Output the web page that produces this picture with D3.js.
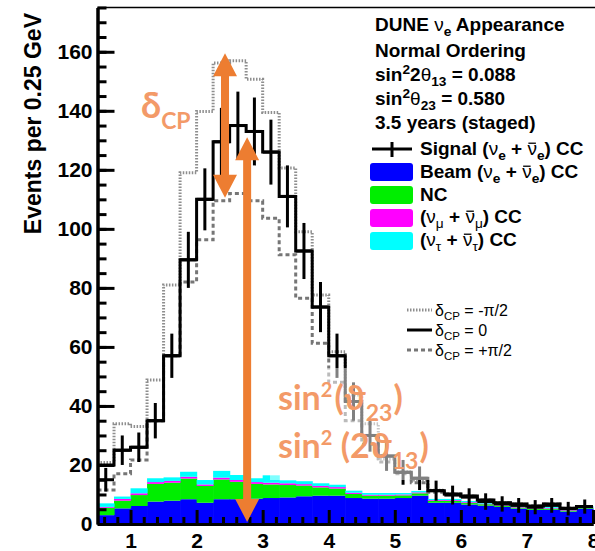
<!DOCTYPE html>
<meta charset="utf-8">
<script src="https://d3js.org/d3.v7.min.js"></script>
<style>
  body { margin: 0; background: #fff; }
  text { font-family: "Liberation Sans", Arial, sans-serif; }
</style>
<div id="my_dataviz"></div>
<script>

// lower edges of the 0.25 GeV bins
var binLow = [0.5, 0.75, 1.0, 1.25, 1.5, 1.75, 2.0, 2.25, 2.5, 2.75, 3.0, 3.25, 3.5, 3.75, 4.0,
              4.25, 4.5, 4.75, 5.0, 5.25, 5.5, 5.75, 6.0, 6.25, 6.5, 6.75, 7.0, 7.25, 7.5, 7.75];
var binWidth = 0.25;

// signal points (crosses) and their error bars
var signal    = [15, 25, 26, 35, 57, 89.5, 110, 129.5, 135, 133, 126, 111, 92.5, 73.5, 57,
                 41.5, 30, 23, 17.5, 15.5, 11.3, 9.8, 9.1, 7.6, 6.8, 6.3, 5.7, 6.3, 5.2, 5.9];
var signalErr = [4, 5, 5, 6, 7.5, 9.5, 10.5, 11.5, 11.5, 11.5, 11, 10.5, 9.5, 8.5, 7.5,
                 6.5, 5.5, 5, 4.2, 4, 3.4, 3.2, 3, 2.8, 2.6, 2.5, 2.4, 2.5, 2.3, 2.4];

// total spectra for the three dCP values
var dcpZero  = [20, 25, 26, 35, 57, 89.5, 110, 129.5, 135, 133, 126, 111, 92.5, 73.5, 57,
                41.5, 30, 23, 17.5, 15.5, 11.3, 10.2, 9.5, 8.1, 7.2, 6.8, 6.1, 6.8, 5.3, 5.9];
var dcpMinus = [20.8, 34, 33, 48.8, 81, 119, 139.8, 156.2, 157, 150.7, 139.4, 120.6, 99, 77.6, 58.4,
                43.7, 34, 22, 17.7, 14.9, 11.4, 10.2, 9.5, 8.1, 7.2, 6.8, 6.1, 6.8, 5.3, 5.9];
var dcpPlus  = [11.5, 17, 21.7, 35, 57, 82, 96.3, 109.5, 112, 109.5, 103.6, 91.2, 76.5, 61.2, 48,
                35, 27, 21, 17, 14, 10.8, 10.2, 9.5, 8.1, 7.2, 6.8, 6.1, 6.8, 5.3, 5.9];

// stacked backgrounds
var beamBg  = [3.0, 5.3, 6.1, 7.6, 7.9, 8.4, 7.2, 8.4, 8.4, 8.6, 8.8, 9.0, 9.4, 9.6, 9.6,
               8.8, 8.6, 8.6, 8.8, 9.6, 7.2, 7.2, 6.6, 6.2, 5.8, 5.2, 4.8, 4.8, 4.2, 5.2];
var ncBg    = [2.5, 2.6, 3.7, 6.0, 6.1, 7.0, 5.7, 6.7, 5.9, 5.0, 4.6, 4.2, 3.6, 2.8, 2.4,
               1.4, 1.0, 1.0, 0.9, 0.8, 0.6, 0.6, 0.5, 0.5, 0.4, 0.4, 0.4, 0.4, 0.3, 0.3];
var numuBg  = [0.3, 0.6, 0.6, 0.6, 0.6, 0.6, 0.5, 0.6, 0.6, 0.6, 0.6, 0.6, 0.5, 0.5, 0.5,
               0.4, 0.3, 0.3, 0.3, 0.3, 0.3, 0.3, 0.3, 0.2, 0.2, 0.2, 0.2, 0.2, 0.2, 0.2];
var nutauBg = [1.2, 0.8, 1.7, 1.3, 1.2, 1.7, 1.5, 2.3, 1.7, 1.3, 2.5, 1.0, 1.0, 0.9, 0.8,
               0.7, 0.6, 0.6, 0.5, 0.5, 0.4, 0.4, 0.4, 0.3, 0.3, 0.3, 0.3, 0.3, 0.3, 0.3];

var xTicks = [1, 2, 3, 4, 5, 6, 7, 8];
var yTicks = [0, 20, 40, 60, 80, 100, 120, 140, 160];

var width = 595, height = 551;

var svg = d3.select("#my_dataviz")
  .append("svg")
    .attr("width", width)
    .attr("height", height);

var x = d3.scaleLinear().domain([0.5, 8]).range([97.5, 593]);
var y = d3.scaleLinear().domain([0, 175]).range([524, 7.5]);

// background stack
var keys = ["beam", "nc", "numu", "nutau"];
var colors = {beam: "#0000ff", nc: "#00ee00", numu: "#ff00ff", nutau: "#00ffff"};
var rows = binLow.map(function(b, i) {
  return {lo: b, beam: beamBg[i], nc: ncBg[i], numu: numuBg[i], nutau: nutauBg[i]};
});
var stacked = d3.stack().keys(keys)(rows);

svg.append("g")
  .selectAll("g")
  .data(stacked)
  .enter().append("g")
    .attr("fill", function(d) { return colors[d.key]; })
  .selectAll("rect")
  .data(function(d) { return d; })
  .enter().append("rect")
    .attr("x", function(d) { return x(d.data.lo); })
    .attr("width", function(d) { return x(d.data.lo + binWidth) - x(d.data.lo) + 0.6; })
    .attr("y", function(d) { return y(d[1]); })
    .attr("height", function(d) { return y(d[0]) - y(d[1]); });

// step histograms
function stepPoints(vals) {
  var p = binLow.map(function(b, i) { return [b, vals[i]]; });
  p.push([binLow[binLow.length - 1] + binWidth, vals[vals.length - 1]]);
  return p;
}
var stepLine = d3.line()
  .x(function(d) { return x(d[0]); })
  .y(function(d) { return y(d[1]); })
  .curve(d3.curveStepAfter);

svg.append("path").datum(stepPoints(dcpMinus))
  .attr("d", stepLine).attr("fill", "none")
  .attr("stroke", "#8e8e8e").attr("stroke-width", 3).attr("stroke-dasharray", "1.5,1.5");
svg.append("path").datum(stepPoints(dcpPlus))
  .attr("d", stepLine).attr("fill", "none")
  .attr("stroke", "#767676").attr("stroke-width", 3).attr("stroke-dasharray", "4,3");
svg.append("path").datum(stepPoints(dcpZero))
  .attr("d", stepLine).attr("fill", "none")
  .attr("stroke", "#000").attr("stroke-width", 3);

// signal crosses
var pts = binLow.map(function(b, i) { return {lo: b, v: signal[i], e: signalErr[i]}; });
var cross = svg.append("g").attr("stroke", "#000").attr("stroke-width", 3);
cross.selectAll(".h").data(pts).enter().append("line")
  .attr("x1", function(d) { return x(d.lo); })
  .attr("x2", function(d) { return x(d.lo + binWidth); })
  .attr("y1", function(d) { return y(d.v); })
  .attr("y2", function(d) { return y(d.v); });
cross.selectAll(".v").data(pts).enter().append("line")
  .attr("x1", function(d) { return x(d.lo + binWidth / 2); })
  .attr("x2", function(d) { return x(d.lo + binWidth / 2); })
  .attr("y1", function(d) { return y(d.v - d.e); })
  .attr("y2", function(d) { return y(d.v + d.e); });

// axes (ticks inside the frame, like ROOT)
var yMinor = svg.append("g").attr("transform", "translate(97.5,0)")
  .call(d3.axisLeft(y).tickValues(d3.range(5, 176, 5)).tickSize(-9).tickSizeOuter(0).tickFormat(""));
var yMajor = svg.append("g").attr("transform", "translate(97.5,0)")
  .call(d3.axisLeft(y).tickValues(yTicks).tickSize(-17).tickSizeOuter(0).tickPadding(5));
var xMinor = svg.append("g").attr("transform", "translate(0,524)")
  .call(d3.axisBottom(x).tickValues(d3.range(0.6, 8, 0.2).filter(function(v) {
    return Math.abs(v - Math.round(v)) > 0.01; })).tickSize(-7).tickSizeOuter(0).tickFormat(""));
var xMajor = svg.append("g").attr("transform", "translate(0,524)")
  .call(d3.axisBottom(x).tickValues(xTicks).tickSize(-14).tickSizeOuter(0).tickPadding(9));

[yMinor, yMajor, xMinor, xMajor].forEach(function(g) {
  g.selectAll("line").attr("stroke", "#000").attr("stroke-width", 3);
  g.select(".domain").attr("stroke", "#000").attr("stroke-width", 3);
  g.selectAll("text").style("font-size", "21px").style("font-weight", "bold")
    .style("font-family", '"Liberation Sans", Arial, sans-serif').attr("fill", "#000");
});

// frame top
svg.append("line").attr("x1", 97.5).attr("x2", 595).attr("y1", 7.5).attr("y2", 7.5)
  .attr("stroke", "#000").attr("stroke-width", 1.5);

// y title
svg.append("text")
  .attr("transform", "rotate(-90)")
  .attr("x", -13).attr("y", 41)
  .attr("text-anchor", "end")
  .style("font-size", "23px").style("font-weight", "bold")
  .text("Events per 0.25 GeV");

// text with sub/superscripts
function richText(xPos, yPos, parts, size, weight, fill) {
  var t = svg.append("text").attr("x", xPos).attr("y", yPos)
    .style("font-size", size + "px").style("font-weight", weight).attr("fill", fill || "#000");
  parts.forEach(function(p) {
    var s = t.append("tspan").text(p.t);
    if (p.sub) s.attr("baseline-shift", -size * 0.28).style("font-size", (size * 0.72) + "px");
    if (p.sup) s.attr("baseline-shift", size * 0.38).style("font-size", (size * 0.72) + "px");
    if (p.g) s.style("font-weight", "normal");
    if (p.size) s.style("font-size", p.size + "px");
    if (p.shift !== undefined) s.attr("baseline-shift", p.shift);
    if (p.dx) s.attr("dx", p.dx);
    p.node = s.node();
  });
  // overline for antineutrinos, drawn as a line over the glyph
  parts.forEach(function(p) {
    if (!p.bar) return;
    var tn = t.node(), n = tn.getNumberOfChars(), idx = 0;
    for (var k = 0; k < parts.length && parts[k] !== p; k++) idx += parts[k].t.length;
    var e = tn.getExtentOfChar(idx);
    svg.append("line").attr("x1", e.x + 1).attr("x2", e.x + e.width - 1)
      .attr("y1", yPos - size * 0.62).attr("y2", yPos - size * 0.62)
      .attr("stroke", fill || "#000").attr("stroke-width", 1.3);
  });
  return t;
}

var L = 19;
richText(375, 31, [{t: "DUNE "}, {t: "ν", g: 1}, {t: "e", sub: 1}, {t: " Appearance"}], L, "bold");
richText(375, 57, [{t: "Normal Ordering"}], L, "bold");
richText(375, 81, [{t: "sin"}, {t: "2", sup: 1}, {t: "2"}, {t: "θ", g: 1}, {t: "13", sub: 1}, {t: " = 0.088"}], L, "bold");
richText(375, 105, [{t: "sin"}, {t: "2", sup: 1}, {t: "θ", g: 1}, {t: "23", sub: 1}, {t: " = 0.580"}], L, "bold");
richText(375, 129, [{t: "3.5 years (staged)"}], L, "bold");

// legend entries
var lx = 420;
svg.append("line").attr("x1", 372).attr("x2", 412).attr("y1", 149).attr("y2", 149)
  .attr("stroke", "#000").attr("stroke-width", 3);
svg.append("line").attr("x1", 392).attr("x2", 392).attr("y1", 142).attr("y2", 157)
  .attr("stroke", "#000").attr("stroke-width", 3);
richText(lx, 155, [{t: "Signal ("}, {t: "ν", g: 1}, {t: "e", sub: 1}, {t: " + "}, {t: "ν", g: 1, bar: 1}, {t: "e", sub: 1}, {t: ") CC"}], L, "bold");

var boxes = [
  {key: "beam", y: 163, base: 178, parts: [{t: "Beam ("}, {t: "ν", g: 1}, {t: "e", sub: 1}, {t: " + "}, {t: "ν", g: 1, bar: 1}, {t: "e", sub: 1}, {t: ") CC"}]},
  {key: "nc", y: 186, base: 201, parts: [{t: "NC"}]},
  {key: "numu", y: 209, base: 223, parts: [{t: "("}, {t: "ν", g: 1}, {t: "μ", sub: 1, g: 1}, {t: " + "}, {t: "ν", g: 1, bar: 1}, {t: "μ", sub: 1, g: 1}, {t: ") CC"}]},
  {key: "nutau", y: 232, base: 246, parts: [{t: "("}, {t: "ν", g: 1}, {t: "τ", sub: 1, g: 1}, {t: " + "}, {t: "ν", g: 1, bar: 1}, {t: "τ", sub: 1, g: 1}, {t: ") CC"}]}
];
boxes.forEach(function(b) {
  svg.append("rect").attr("x", 370).attr("y", b.y).attr("width", 43).attr("height", 18)
    .attr("rx", 3).attr("fill", colors[b.key]);
  richText(lx, b.base, b.parts, L, "bold");
});

// dCP legend
var dl = [
  {y: 310, stroke: "#8e8e8e", dash: "1.5,1.5", lab: "-π/2"},
  {y: 330, stroke: "#000", dash: null, lab: "0"},
  {y: 350, stroke: "#767676", dash: "4,3", lab: "+π/2"}
];
dl.forEach(function(d) {
  svg.append("line").attr("x1", 407).attr("x2", 432).attr("y1", d.y).attr("y2", d.y)
    .attr("stroke", d.stroke).attr("stroke-width", 3).attr("stroke-dasharray", d.dash);
  richText(435, d.y + 6, [{t: "δ", g: 1}, {t: "CP", sub: 1}, {t: " = " + d.lab}], 16, "normal");
});

// orange annotations
var orange = "#ed7d31", orangeText = "#f39a68";
function dblArrow(xc, vTop, vBot) {
  var cx = x(xc), t = y(vTop), b = y(vBot), hw = 12, hl = 23, sw = 4;
  var p = [[cx, t], [cx + hw, t + hl], [cx + sw, t + hl], [cx + sw, b - hl], [cx + hw, b - hl],
           [cx, b], [cx - hw, b - hl], [cx - sw, b - hl], [cx - sw, t + hl], [cx - hw, t + hl]];
  svg.append("path").attr("d", "M" + p.join("L") + "Z").attr("fill", orange);
}

svg.append("rect").attr("x", 270).attr("y", 368).attr("width", 182).attr("height", 112)
  .attr("fill", "#fff").attr("opacity", 0.5);

dblArrow(2.43, 159.5, 110.5);
dblArrow(2.765, 131, 0.7);

richText(141, 118, [{t: "δ", size: 36}, {t: "CP", size: 23, shift: -11}], 36, "bold", orangeText)
  .style("font-family", "Lato, sans-serif");
richText(278, 410, [{t: "sin"}, {t: "2", size: 20, shift: 13}, {t: "(", dx: 2}, {t: "ϑ"}, {t: "23", size: 23, shift: -11}, {t: ")", dx: 1}], 34, "bold", orangeText)
  .style("font-family", "Lato, sans-serif");
richText(278, 458, [{t: "sin"}, {t: "2", size: 20, shift: 13}, {t: " (2"}, {t: "ϑ"}, {t: "13", size: 23, shift: -11}, {t: ")", dx: 1}], 34, "bold", orangeText)
  .style("font-family", "Lato, sans-serif");

</script>
